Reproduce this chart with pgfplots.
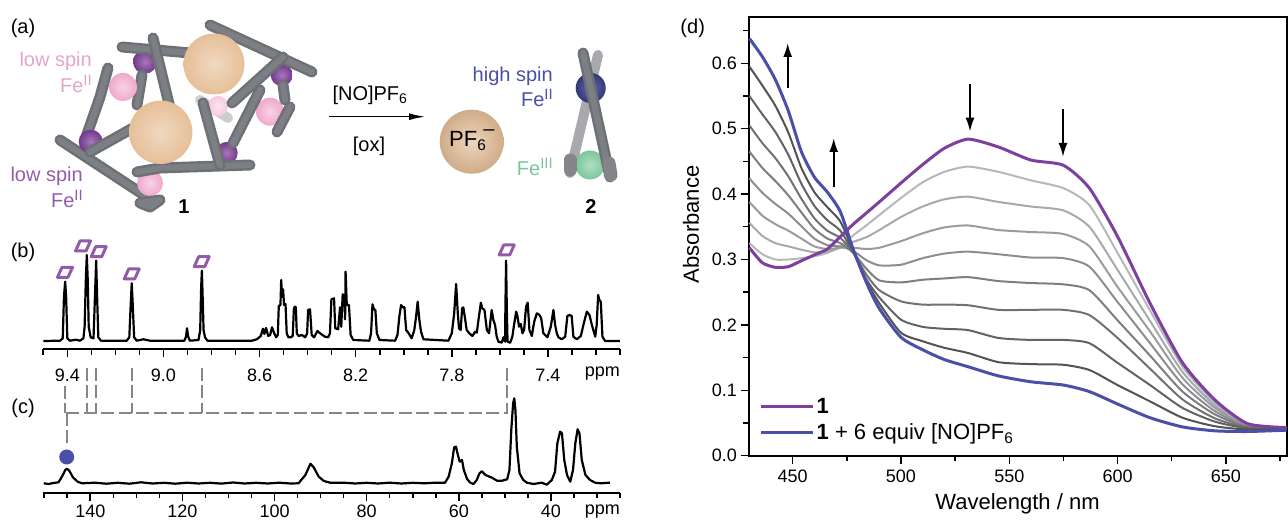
\documentclass[border=0pt]{standalone}
\usepackage{fontspec}
\setmainfont{Liberation Sans}
\usepackage{pgfplots}
\usepackage{pgfplotstable}
\pgfplotsset{compat=1.18}
\usetikzlibrary{arrows.meta}

\definecolor{cpurple}{HTML}{7F3F9C}
\definecolor{cblue}{HTML}{4A50A8}
\definecolor{dashgrey}{HTML}{85868C}
\definecolor{rod}{HTML}{6D7074}
\definecolor{rodlight}{HTML}{7C7F83}
\definecolor{cpink}{HTML}{F0A8CC}
\definecolor{cpinktxt}{HTML}{E5A5C8}
\definecolor{corange}{HTML}{E6BF98}
\definecolor{cgreen}{HTML}{7CC79A}
\newcommand{\sups}[1]{\raisebox{7pt}{\fontsize{15}{15}\selectfont #1}}

% UV-vis titration (d)
\pgfplotstableread{
nm  p    g1   g2   g3   g4   g5   g6   g7   g8   b
430 .318 .325 .356 .388 .424 .465 .505 .550 .595 .638
436 .295 .308 .336 .367 .402 .440 .478 .522 .566 .610
442 .288 .300 .325 .354 .385 .420 .455 .495 .535 .575
448 .289 .300 .320 .344 .370 .398 .427 .460 .494 .527
454 .298 .302 .315 .332 .351 .372 .393 .416 .440 .465
460 .307 .305 .311 .320 .332 .347 .363 .382 .403 .426
466 .316 .310 .312 .316 .322 .332 .344 .360 .380 .403
472 .335 .320 .318 .318 .320 .325 .333 .344 .358 .373
478 .354 .337 .327 .318 .313 .310 .310 .311 .313 .315
484 .371 .352 .334 .316 .299 .286 .277 .270 .267 .265
490 .388 .368 .345 .318 .291 .268 .253 .242 .233 .225
500 .417 .394 .365 .328 .292 .265 .236 .208 .188 .181
510 .445 .418 .381 .340 .302 .269 .231 .197 .175 .162
520 .470 .434 .392 .349 .309 .271 .231 .194 .165 .147
531 .484 .442 .396 .352 .312 .273 .230 .192 .157 .136
545 .472 .434 .388 .345 .308 .267 .223 .180 .143 .122
560 .452 .421 .381 .342 .303 .264 .223 .177 .140 .113
575 .444 .409 .375 .339 .302 .262 .223 .177 .139 .108
587 .409 .383 .350 .320 .289 .253 .215 .172 .131 .098
600 .335 .310 .284 .258 .235 .207 .180 .142 .108 .079
615 .233 .222 .206 .190 .172 .153 .133 .108 .083 .058
630 .142 .136 .128 .119 .109 .098 .086 .073 .058 .044
645 .085 .081 .077 .073 .068 .063 .057 .052 .045 .038
660 .049 .048 .047 .046 .045 .044 .043 .042 .040 .037
678 .043 .043 .043 .043 .043 .042 .042 .042 .041 .039
}\uvvis

% 1H NMR trace (b): ppm, height
\pgfplotstableread{
ppm h
9.500 8.3
9.430 8.6
9.419 11
9.414 52.6
9.409 67.6
9.405 52.6
9.400 11
9.389 8.6
9.364 9.6
9.347 8.6
9.333 11
9.328 22.6
9.323 69.3
9.319 94.3
9.315 69.3
9.311 22.6
9.303 12
9.291 11
9.285 52.6
9.280 88.6
9.276 52.6
9.271 12
9.260 8.6
9.153 8.6
9.142 12
9.136 46
9.132 66
9.128 46
9.122 12
9.111 8.6
9.083 10
9.056 8.6
8.913 8.6
8.906 12.6
8.902 21
8.897 12.6
8.890 8.6
8.854 9.3
8.847 19.3
8.843 62.6
8.840 78.6
8.838 62.6
8.833 19.3
8.827 12
8.817 8.6
8.632 8.6
8.611 10
8.595 13.3
8.586 20.6
8.580 15.3
8.573 21.3
8.564 13.3
8.556 14.3
8.548 22
8.539 16
8.531 12
8.524 14.3
8.520 43.3
8.513 44.3
8.510 69.3
8.506 52.6
8.502 60
8.498 44.3
8.492 45.3
8.487 16
8.480 12
8.470 12
8.462 13.3
8.457 41
8.453 42.6
8.449 42
8.445 16
8.438 13.3
8.424 14.3
8.410 12
8.402 16
8.398 39.3
8.390 40
8.383 14.3
8.373 12
8.359 18.3
8.348 16
8.328 12.6
8.314 12
8.307 16
8.301 50
8.290 51
8.285 21
8.273 20
8.265 42
8.260 22.6
8.254 55
8.247 52.6
8.244 30
8.242 77.6
8.237 44.3
8.228 44.3
8.221 14.3
8.210 9.3
8.143 8.6
8.136 16
8.130 45
8.124 40
8.118 39.3
8.112 16
8.101 9.3
8.036 8.6
8.026 14.3
8.018 33.3
8.011 44.3
8.004 42
7.997 42
7.990 19.3
7.981 16.6
7.967 11
7.956 19.3
7.949 32
7.942 47.6
7.935 29.3
7.928 17.6
7.918 10
7.814 8.6
7.800 16
7.790 36
7.782 65.3
7.775 36
7.770 21
7.763 19.3
7.757 41
7.752 42
7.745 31
7.738 19.3
7.727 16
7.714 13.3
7.703 17.6
7.696 16.6
7.689 29.3
7.679 46.6
7.673 41
7.664 39.3
7.654 19.3
7.645 16
7.634 39.3
7.627 29.3
7.620 24.3
7.613 12.6
7.606 7.6
7.592 6.6
7.585 12
7.578 7.6
7.577 40
7.574 88.6
7.571 40
7.568 7.6
7.557 6.6
7.548 12.6
7.541 24.3
7.532 37.6
7.527 33.3
7.520 22.6
7.513 25.3
7.506 16
7.499 19.3
7.491 42.6
7.484 46.6
7.477 19.3
7.467 13.3
7.457 27.6
7.446 36
7.435 34.3
7.428 31
7.419 16
7.402 12
7.388 22.6
7.377 39.3
7.370 24.3
7.363 16
7.356 12
7.342 10
7.328 12.6
7.319 33.3
7.310 34.3
7.301 33.3
7.294 12.6
7.280 10
7.263 13.3
7.249 27.6
7.238 37.6
7.227 34.3
7.217 24.3
7.203 12.6
7.197 24.3
7.191 54.3
7.186 49.3
7.180 47.6
7.173 12.6
7.162 8.3
7.100 8.3
}\protonb

% 1H NMR trace (c): ppm, height
\pgfplotstableread{
ppm h
150.1 9.4
149.05 8.7
147.96 9.7
146.9 10.4
146.15 16
145.43 22.7
145.07 24
144.56 22
143.77 15.4
142.75 11
141.8 9.4
139 10
136.5 9
134 9.9
131.5 9
129 10.4
126.5 9.2
124 9.9
121.5 9
119 10
116.5 9.2
114 9.9
111.5 9.1
109 10.2
106.5 9.2
104 9.9
101.5 9.2
99 10
96.5 9.2
94.8 9.4
93.3 17.7
92.2 29
91.5 25.4
90.4 16
89.3 11.7
87.9 10
85 10
82.5 9.2
80 9.9
77.5 9.2
75 10
72.5 9.2
70 9.9
67.5 9.4
65 10
63 9.9
62.2 16
61.5 29.4
61 45.4
60.6 46
60.2 37.7
59.8 31
59.3 32.7
58.9 22.7
58.2 13.7
57.5 10
56.8 8.7
56.1 12.7
55.5 19.4
55 21.4
54.2 17.7
52.8 15
51.7 12
50.6 12
49.5 13.4
49 22.7
48.6 62.7
48.2 89.4
47.95 94.4
47.7 82.7
47.4 46
46.8 19.4
46 12.7
45.2 10
43.8 8.7
42 10
40.9 8
39.8 12.7
39.1 21
38.6 49.4
38 61
37.6 59.4
37.1 32.7
36.5 17.7
35.8 11
35.2 22.7
34.7 49.4
34.2 63.4
33.8 59.4
33.3 32.7
32.5 17.7
31.5 12.7
30.4 10
29.3 9.4
27.2 10
}\protonc

\pgfplotsset{
  spectrum/.style={
    scale only axis, axis x line=bottom, axis y line=none,
    axis line style={-, line width=2pt},
    x dir=reverse, ymin=0, ymax=100,
    major tick length=8pt, minor tick length=5.5pt,
    every tick/.style={black, line width=1.6pt},
    tick align=outside, xtick pos=bottom,
    every tick label/.append style={font=\fontsize{18}{20}\selectfont},
    clip=false,
  },
}
\tikzset{
  rr/.style={rod, double=rodlight, double distance=6pt, line width=2.5pt, line cap=round, line join=round},
}

\begin{document}
\begin{tikzpicture}
\path[use as bounding box] (0,0) rectangle (1288pt,521pt);
\clip (0,0) rectangle (1288pt,521pt);

% panel d
\begin{axis}[
  at={(748.5pt,65.3pt)}, anchor=south west, scale only axis,
  width=538pt, height=438.2pt,
  xmin=429.6, xmax=678, ymin=0, ymax=0.67,
  xtick={450,500,550,600,650}, xticklabels={450,500,550,600,650},
  minor xtick={475,525,575,625,675},
  ytick={0,0.1,0.2,0.3,0.4,0.5,0.6}, yticklabels={0.0,0.1,0.2,0.3,0.4,0.5,0.6},
  minor ytick={0.05,0.15,0.25,0.35,0.45,0.55,0.65},
  xtick pos=bottom, ytick pos=left, tick align=outside,
  major tick length=8pt, minor tick length=5.5pt,
  every tick/.style={black, line width=1.4pt},
  axis line style={line width=2pt},
  every tick label/.append style={font=\fontsize{18}{20}\selectfont},
  xticklabel style={yshift=-3pt},
  xlabel={Wavelength / nm}, ylabel={Absorbance},
  label style={font=\fontsize{22}{24}\selectfont},
  xlabel style={at={(axis description cs:0.5,0)}, anchor=center, yshift=-48pt},
  ylabel style={at={(axis description cs:-0.107,0.528)}, anchor=center},
  legend style={at={(11pt,12pt)}, anchor=south west, draw=none, fill=none,
    font=\fontsize{22}{24}\selectfont, row sep=5pt, inner sep=0pt},
  legend cell align=left,
  legend image code/.code={\draw[#1] (0pt,0pt)--(52pt,0pt);},
]
\addplot[forget plot, smooth, tension=0.4, color={rgb,255:red,182;green,183;blue,186}, line width=2pt] table[x=nm,y=g1] {\uvvis};
\addplot[forget plot, smooth, tension=0.4, color={rgb,255:red,168;green,169;blue,172}, line width=2pt] table[x=nm,y=g2] {\uvvis};
\addplot[forget plot, smooth, tension=0.4, color={rgb,255:red,154;green,155;blue,158}, line width=2pt] table[x=nm,y=g3] {\uvvis};
\addplot[forget plot, smooth, tension=0.4, color={rgb,255:red,140;green,141;blue,144}, line width=2pt] table[x=nm,y=g4] {\uvvis};
\addplot[forget plot, smooth, tension=0.4, color={rgb,255:red,125;green,126;blue,130}, line width=2pt] table[x=nm,y=g5] {\uvvis};
\addplot[forget plot, smooth, tension=0.4, color={rgb,255:red,112;green,113;blue,116}, line width=2pt] table[x=nm,y=g6] {\uvvis};
\addplot[forget plot, smooth, tension=0.4, color={rgb,255:red,98;green,99;blue,102}, line width=2pt] table[x=nm,y=g7] {\uvvis};
\addplot[forget plot, smooth, tension=0.4, color={rgb,255:red,82;green,83;blue,86}, line width=2pt] table[x=nm,y=g8] {\uvvis};
\addplot[smooth, tension=0.4, cpurple, line width=3pt] table[x=nm,y=p] {\uvvis};
\addlegendentry{\textbf{1}}
\addplot[smooth, tension=0.4, cblue, line width=3pt] table[x=nm,y=b] {\uvvis};
\addlegendentry{\textbf{1} + 6 equiv [NO]PF\textsubscript{6}}
\end{axis}

% panel b
\begin{axis}[
  spectrum, at={(43.3pt,171.7pt)}, anchor=south west, width=576.7pt, height=100pt,
  xmin=7.1, xmax=9.5,
  xtick={9.4,9.0,8.6,8.2,7.8,7.4}, xticklabels={9.4,9.0,8.6,8.2,7.8,7.4},
  minor xtick={9.5,9.3,9.2,9.1,8.9,8.8,8.7,8.5,8.4,8.3,8.1,8.0,7.9,7.7,7.6,7.5,7.3,7.2,7.1},
  xticklabel style={yshift=-8pt},
]
\addplot[black, line width=2.2pt, line join=round] table[x=ppm,y=h] {\protonb};
\end{axis}

% panel c
\begin{axis}[
  spectrum, at={(43.3pt,28.3pt)}, anchor=south west, width=576.7pt, height=100pt,
  xmin=25, xmax=150.2,
  xtick={140,120,100,80,60,40}, xticklabels={140,120,100,80,60,40},
  minor xtick={150,145,135,130,125,115,110,105,95,90,85,75,70,65,55,50,45,35,30,25},
  xticklabel style={inner sep=0pt, yshift=-4pt},
]
\addplot[black, line width=2.2pt, line join=round] table[x=ppm,y=h] {\protonc};
\end{axis}

% annotations in image pixels
\begin{scope}[x=1pt, y=-1pt, yshift=521pt, every node/.style={font=\fontsize{20}{22}\selectfont, inner sep=0pt}]
  \node at (23,28) {(a)};
  \node at (23,252) {(b)};
  \node at (23,408) {(c)};
  \node at (692.7,28) {(d)};

  % arrows of panel d
  \begin{scope}[line width=2pt, -{Latex[length=14pt,width=9pt]}]
    \draw (787.7,88) -- (787.7,43);
    \draw (833.7,186.7) -- (833.7,138);
    \draw (970,84) -- (970,131.7);
    \draw (1063,109) -- (1063,157);
  \end{scope}

  \node[anchor=east] at (620,374) {\fontsize{18}{20}\selectfont ppm};
  \node[anchor=east] at (620,512) {\fontsize{18}{20}\selectfont ppm};

  % dashed correlation lines
  \begin{scope}[dashgrey, line width=2pt, dash pattern=on 13pt off 4.5pt]
    \draw (65,386) -- (65,413);
    \draw (86.5,368) -- (86.5,413);
    \draw (96,368) -- (96,413);
    \draw (132,368) -- (132,413);
    \draw (202,368) -- (202,413);
    \draw (506.7,368) -- (506.7,413) -- (65,413);
    \draw (66.7,413) -- (66.7,445);
  \end{scope}

  % purple squares above the peaks of b
  \foreach \cx/\cy in {65/272.3,83/246,98.7/251.7,131.7/274,201.7/261.7,506.7/250}
    \draw[cpurple!85, line width=3pt, line join=round, shift={(\cx,\cy)}]
      (-7.5,5) -- (-3,-5) -- (7.5,-5) -- (3,5) -- cycle;
  \fill[cblue] (66.7,457) circle (7.5);

  % cartoon of 1
  \shade[inner color=cpurple!70!white, outer color=cpurple!90!black] (145,61.7) circle (12);
  \shade[inner color=cpurple!70!white, outer color=cpurple!90!black] (226.7,153) circle (11);
  \shade[inner color=cpurple!70!white, outer color=cpurple!90!black] (281.7,75) circle (11);
  \draw[rod!35, line width=10pt, line cap=round] (200,100) -- (228,118);
  \shade[inner color=cpink!25!white, outer color=cpink!65!white] (218,106) circle (10);
  \shade[inner color=cpink!50!white, outer color=cpink] (270,111.7) circle (14);
  \draw[rr] (60,140) -- (147,197);
  \draw[rr] (108,68) -- (100,97) -- (85,140);
  \shade[inner color=cpurple!70!white, outer color=cpurple!90!black] (90.7,141.7) circle (12);
  \shade[inner color=cpink!50!white, outer color=cpink] (150,183) circle (13);
  \draw[rr] (210,25) -- (312,72);
  \draw[rr] (122,47) -- (190,53);
  \draw[rr] (153,38) -- (170,108);
  \draw[rr] (142,75) -- (137,105);
  \shade[inner color=cpink!50!white, outer color=cpink] (123,87) circle (14);
  \draw[rr] (90,152) -- (133,128);
  \draw[rr] (137,172) -- (160,168) -- (250,165);
  \draw[rr] (140,203) -- (160,200) -- (150,207) -- cycle;
  \draw[rr] (220,165) -- (203,103);
  \draw[rr] (232,103) -- (283,57);
  \draw[rr] (233,143) -- (260,90);
  \draw[rr] (283,85) -- (285,100);
  \draw[rr] (290,107) -- (277,132);
  \shade[inner color=corange!60!white, outer color=corange] (214,64) circle (30.5);
  \shade[inner color=corange!60!white, outer color=corange] (160.7,132.3) circle (31.7);

  \node[anchor=east, cpinktxt] at (92,61.7) {low spin};
  \node[anchor=east, cpinktxt] at (92,84) {Fe\sups{II}};
  \node[anchor=east, cpurple!85] at (83,176.7) {low spin};
  \node[anchor=east, cpurple!85] at (83,199) {Fe\sups{II}};
  \node at (184,207) {\textbf{1}};

  % reaction arrow
  \draw[line width=1.4pt, -{Latex[length=16pt,width=7pt]}] (329.3,116.7) -- (425,116.7);
  \node at (370,95) {[NO]PF\textsubscript{6}};
  \node at (369,146.7) {[ox]};

  % PF6 counter-ion
  \shade[inner color=corange!65!white, outer color=corange!90!black] (471.7,141.7) circle (32);
  \node[anchor=west] at (449,141) {\fontsize{22}{24}\selectfont PF\textsubscript{6}};
  \node at (489,133) {--};

  % cartoon of 2
  \draw[rod!60, line width=10pt, line cap=round] (598,55) -- (570,173);
  \shade[inner color=cblue!85!white, outer color=cblue!70!black] (590.7,88) circle (15);
  \shade[inner color=cgreen!60!white, outer color=cgreen] (590,165) circle (14.5);
  \draw[rr] (583,53) -- (610,177);
  \draw[rod!85, line width=13pt, line cap=round] (570,160) -- (570,170);
  \draw[rod!85, line width=13pt, line cap=round] (609,163) -- (611,175);
  \node[anchor=east, cblue] at (553,76.7) {high spin};
  \node[anchor=east, cblue] at (553,98) {Fe\sups{II}};
  \node[anchor=east, cgreen] at (553,166.7) {Fe\sups{III}};
  \node at (591,207) {\textbf{2}};
\end{scope}
\end{tikzpicture}
\end{document}
